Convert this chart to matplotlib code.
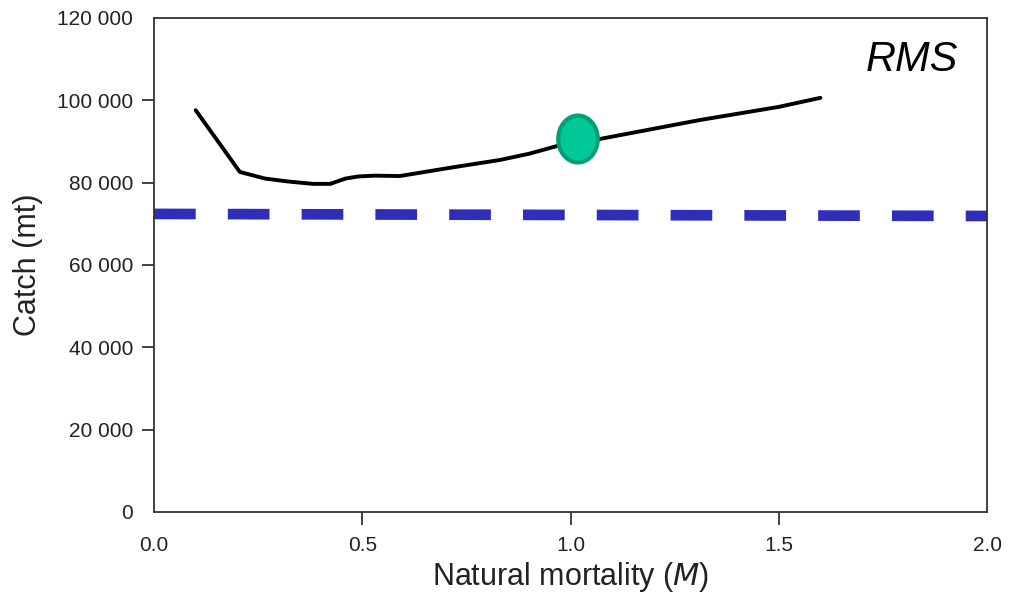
import matplotlib.pyplot as plt
from matplotlib.patches import Ellipse

plt.rcParams['font.family'] = ['Liberation Sans', 'DejaVu Sans']

# catch vs natural mortality
m_vals = [0.10, 0.206, 0.266, 0.32, 0.382, 0.423, 0.46, 0.49, 0.53, 0.59,
          0.71, 0.83, 0.90, 0.975, 1.07, 1.31, 1.50, 1.60]
catch_vals = [97600, 82600, 81000, 80300, 79700, 79700, 81000, 81500, 81700, 81600,
              83600, 85500, 87000, 89100, 90600, 95200, 98400, 100600]

# reference level (dashed)
ref_m = [0.0, 2.0]
ref_catch = [72400, 71900]

# highlighted point
pt_m = 1.018
pt_catch = 90600

xticks = [0.0, 0.5, 1.0, 1.5, 2.0]
yticks = [0, 20000, 40000, 60000, 80000, 100000, 120000]
ytick_labels = ['0', '20 000', '40 000', '60 000', '80 000', '100 000', '120 000']

fig = plt.figure(figsize=(10.12, 5.97), dpi=100)
ax = fig.add_axes([0.1522, 0.1424, 0.8231, 0.8275])

ax.plot(ref_m, ref_catch, color='#2e2eb8', lw=7.7, dashes=(3.9, 3.0),
        solid_capstyle='butt', dash_capstyle='butt', zorder=2)
ax.plot(m_vals, catch_vals, color='black', lw=2.8, solid_joinstyle='round',
        solid_capstyle='round', zorder=3)
ax.add_patch(Ellipse((pt_m, pt_catch), width=0.095, height=11400,
                     facecolor='#00c896', edgecolor='#00a074', lw=3, zorder=4))

ax.text(0.965, 0.915, 'RMS', transform=ax.transAxes, style='italic',
        fontsize=30, ha='right', va='center', color='black')

ax.set_xlim(0, 2.0)
ax.set_ylim(0, 120000)
ax.set_xticks(xticks)
ax.set_xticklabels([f'{v:.1f}' for v in xticks])
ax.set_yticks(yticks)
ax.set_yticklabels(ytick_labels)
ax.tick_params(direction='out', length=9, width=1.3, color='#333333',
               labelsize=15, labelcolor='#222222', pad=6)
ax.tick_params(axis='x', pad=8)
for axis in (ax.xaxis, ax.yaxis):
    ticks = axis.get_major_ticks()
    ticks[0].tick1line.set_visible(False)
    ticks[-1].tick1line.set_visible(False)

for sp in ax.spines.values():
    sp.set_color('#333333')
    sp.set_linewidth(1.3)

ax.set_xlabel('Natural mortality ($\\it{M}$)', fontsize=22, color='#222222', labelpad=4)
ax.set_ylabel('Catch (mt)', fontsize=22, color='#222222', labelpad=10)

fig.savefig('out.png', dpi=100)
